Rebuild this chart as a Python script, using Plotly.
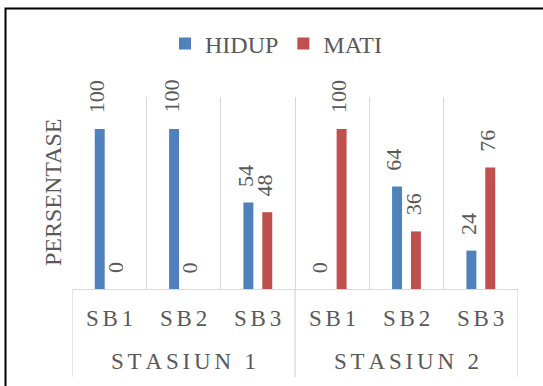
import plotly.graph_objects as go

# ---- data ----
stations = ["STASIUN 1", "STASIUN 1", "STASIUN 1", "STASIUN 2", "STASIUN 2", "STASIUN 2"]
sites = ["SB1", "SB2", "SB3", "SB1", "SB2", "SB3"]
hidup = [100, 100, 54, 0, 64, 24]
mati = [0, 0, 48, 100, 36, 76]
series_names = ["HIDUP", "MATI"]
colors = ["#4f81bd", "#c0504d"]

# ---- layout geometry (pixels) ----
W, H = 543, 386
L, R, T, B = 72, 25, 97, 97
PW, PH = W - L - R, H - T - B


def px_x(p):
    return (p - L) / PW


def px_y(p):
    return (H - B - p) / PH


def spaced(s):
    return "\u2006".join(s)


FONT = "Times New Roman, Liberation Serif, serif"
TXT = "#595959"
GRID = "#d9d9d9"

x = list(range(len(sites)))
bar_w = 0.134
half = 0.127
offsets = [-half - bar_w / 2, half - bar_w / 2]

fig = go.Figure()
for name, vals, col, off in zip(series_names, [hidup, mati], colors, offsets):
    fig.add_trace(go.Bar(
        x=x, y=vals, name=name, width=bar_w, offset=off,
        marker=dict(color=col, line=dict(width=0)),
        hoverinfo="skip",
    ))

annotations = []
# value labels
for vals, off in zip([hidup, mati], offsets):
    for xi, v in zip(x, vals):
        annotations.append(dict(
            x=xi + off + bar_w / 2, y=v, xref="x", yref="y",
            text=str(v), showarrow=False, textangle=-90,
            xanchor="center", yanchor="bottom", yshift=14, xshift=-3,
            font=dict(family=FONT, size=22, color=TXT),
        ))

# category labels (inner level)
for xi, s in zip(x, sites):
    annotations.append(dict(
        x=xi, y=px_y(318.7), xref="x", yref="paper",
        text=spaced(s), showarrow=False, xanchor="center", yanchor="middle",
        font=dict(family=FONT, size=23, color=TXT),
    ))

# group labels (outer level)
groups = []
for xi, st in zip(x, stations):
    if not groups or groups[-1][0] != st:
        groups.append([st, xi, xi])
    else:
        groups[-1][2] = xi
for st, a, b in groups:
    annotations.append(dict(
        x=(a + b) / 2, y=px_y(361.7), xref="x", yref="paper",
        text=spaced(st), showarrow=False, xanchor="center", yanchor="middle",
        font=dict(family=FONT, size=23, color=TXT),
    ))

# y axis title
annotations.append(dict(
    x=px_x(53), y=0.5, xref="paper", yref="paper",
    text="PERSENTASE", showarrow=False, textangle=-90,
    xanchor="center", yanchor="middle",
    font=dict(family=FONT, size=24, color=TXT),
))

shapes = []
# group dividers extending below the axis
bounds = [groups[0][1] - 0.5] + [g[2] + 0.5 for g in groups]
for bx in bounds:
    shapes.append(dict(
        type="line", xref="x", yref="paper", x0=bx, x1=bx,
        y0=0, y1=px_y(377), line=dict(color=GRID, width=1.3),
    ))
# outer frame (cropped)
shapes.append(dict(
    type="rect", xref="paper", yref="paper",
    x0=px_x(5.5), x1=px_x(620), y0=px_y(8.5), y1=px_y(460),
    line=dict(color="black", width=2), fillcolor="rgba(0,0,0,0)",
))

fig.update_layout(
    width=W, height=H,
    margin=dict(l=L, r=R, t=T, b=B, pad=0),
    paper_bgcolor="white", plot_bgcolor="white",
    font=dict(family=FONT, size=22, color=TXT),
    showlegend=True,
    legend=dict(
        orientation="h", x=px_x(165), xanchor="left",
        y=px_y(44), yanchor="middle",
        font=dict(family=FONT, size=24, color=TXT),
        itemwidth=30, tracegroupgap=0, bgcolor="rgba(0,0,0,0)",
    ),
    xaxis=dict(
        range=[-0.5, len(sites) - 0.5],
        tickvals=[i - 0.5 for i in range(len(sites) + 1)],
        showticklabels=False, ticks="",
        showgrid=True, gridcolor=GRID, gridwidth=1.3,
        zeroline=False, showline=True, linecolor=GRID, linewidth=1.3,
        fixedrange=True,
    ),
    yaxis=dict(
        range=[0, 120], showticklabels=False, ticks="",
        showgrid=False, zeroline=False, showline=False, fixedrange=True,
    ),
    annotations=annotations,
    shapes=shapes,
)

fig.write_html("out.html")
